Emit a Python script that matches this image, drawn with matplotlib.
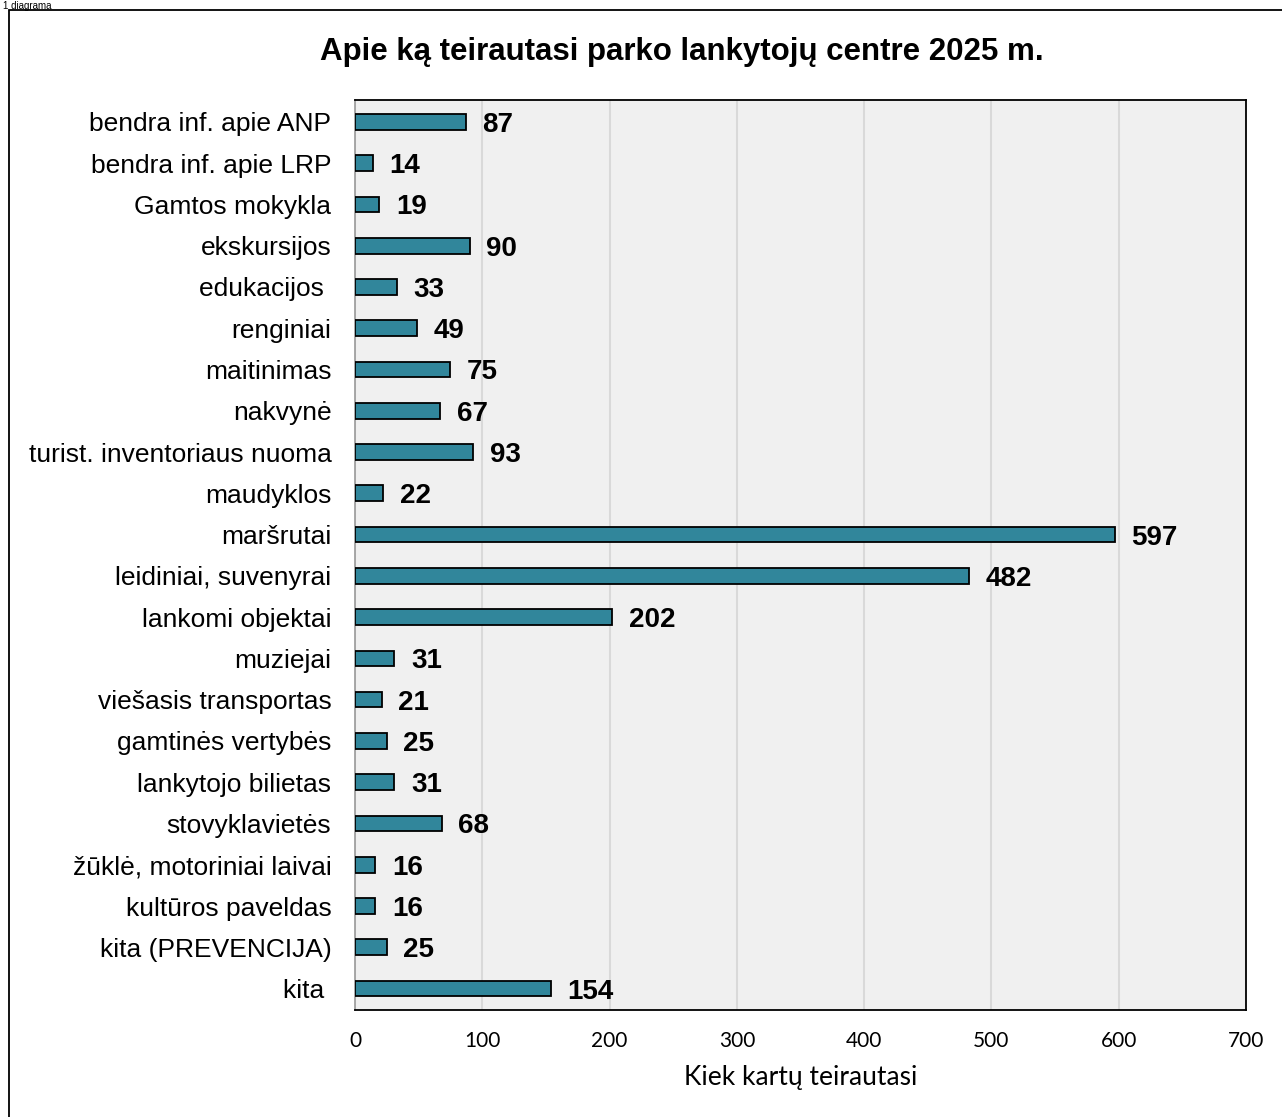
import matplotlib.pyplot as plt
from matplotlib.patches import Rectangle

categories = ["bendra inf. apie ANP", "bendra inf. apie LRP", "Gamtos mokykla",
              "ekskursijos", "edukacijos ", "renginiai", "maitinimas", "nakvynė",
              "turist. inventoriaus nuoma", "maudyklos", "maršrutai",
              "leidiniai, suvenyrai", "lankomi objektai", "muziejai",
              "viešasis transportas", "gamtinės vertybės", "lankytojo bilietas",
              "stovyklavietės", "žūklė, motoriniai laivai", "kultūros paveldas",
              "kita (PREVENCIJA)", "kita "]
values = [87, 14, 19, 90, 33, 49, 75, 67, 93, 22, 597, 482, 202, 31, 21, 25, 31,
          68, 16, 16, 25, 154]
xticks = [0, 100, 200, 300, 400, 500, 600, 700]

W, H = 1282, 1117
fig = plt.figure(figsize=(W / 100, H / 100), dpi=100)
fig.patch.set_facecolor("white")

# outer frame, runs off the right and bottom edge
fig.patches.append(Rectangle((9 / W, -0.05), 1.1, 1 - 10 / H + 0.05,
                             transform=fig.transFigure, fill=False,
                             edgecolor="black", lw=1.3, clip_on=False))
fig.text(3 / W, 1 - 9 / H, "1 diagrama", fontsize=7, family="Liberation Sans",
         va="baseline", ha="left")

ax = fig.add_axes([355 / W, 1 - 1010 / H, (1246 - 355) / W, (1010 - 100) / H])
ax.set_facecolor("#F0F0F0")
pos = list(range(len(categories)))
ax.barh(pos, values, height=0.38, color="#31869B", edgecolor="black", lw=1.3, zorder=3)
ax.set_xlim(0, 700)
ax.set_ylim(len(categories) - 0.5 + 0.02, -0.53)
ax.set_yticks(pos)
ax.set_yticklabels(categories, fontsize=19, family="Liberation Sans")
ax.set_xticks(xticks)
ax.set_xticklabels([str(t) for t in xticks], fontsize=15, family="Lato")
ax.tick_params(axis="y", length=0, pad=17)
ax.tick_params(axis="x", length=0, pad=15)
ax.grid(axis="x", color="#D9D9D9", lw=1.5, zorder=0)
ax.set_axisbelow(True)
for s in ["top", "right", "bottom"]:
    ax.spines[s].set_color("black")
    ax.spines[s].set_linewidth(1.3)
ax.spines["left"].set_color("#A0A0A0")
ax.spines["left"].set_linewidth(1.3)

for p, v in zip(pos, values):
    ax.annotate(str(v), (v, p), xytext=(12, 0), textcoords="offset points",
                va="center_baseline", ha="left", fontsize=20, fontweight="bold",
                family="Liberation Sans")

ax.set_xlabel("Kiek kartų teirautasi", fontsize=19, family="Lato", labelpad=10)
fig.text(682 / W, 1 - 52 / H, "Apie ką teirautasi parko lankytojų centre 2025 m.",
         fontsize=22.5, fontweight="bold", family="Liberation Sans",
         ha="center", va="center")

fig.savefig("out.png", dpi=100, facecolor=fig.get_facecolor())
